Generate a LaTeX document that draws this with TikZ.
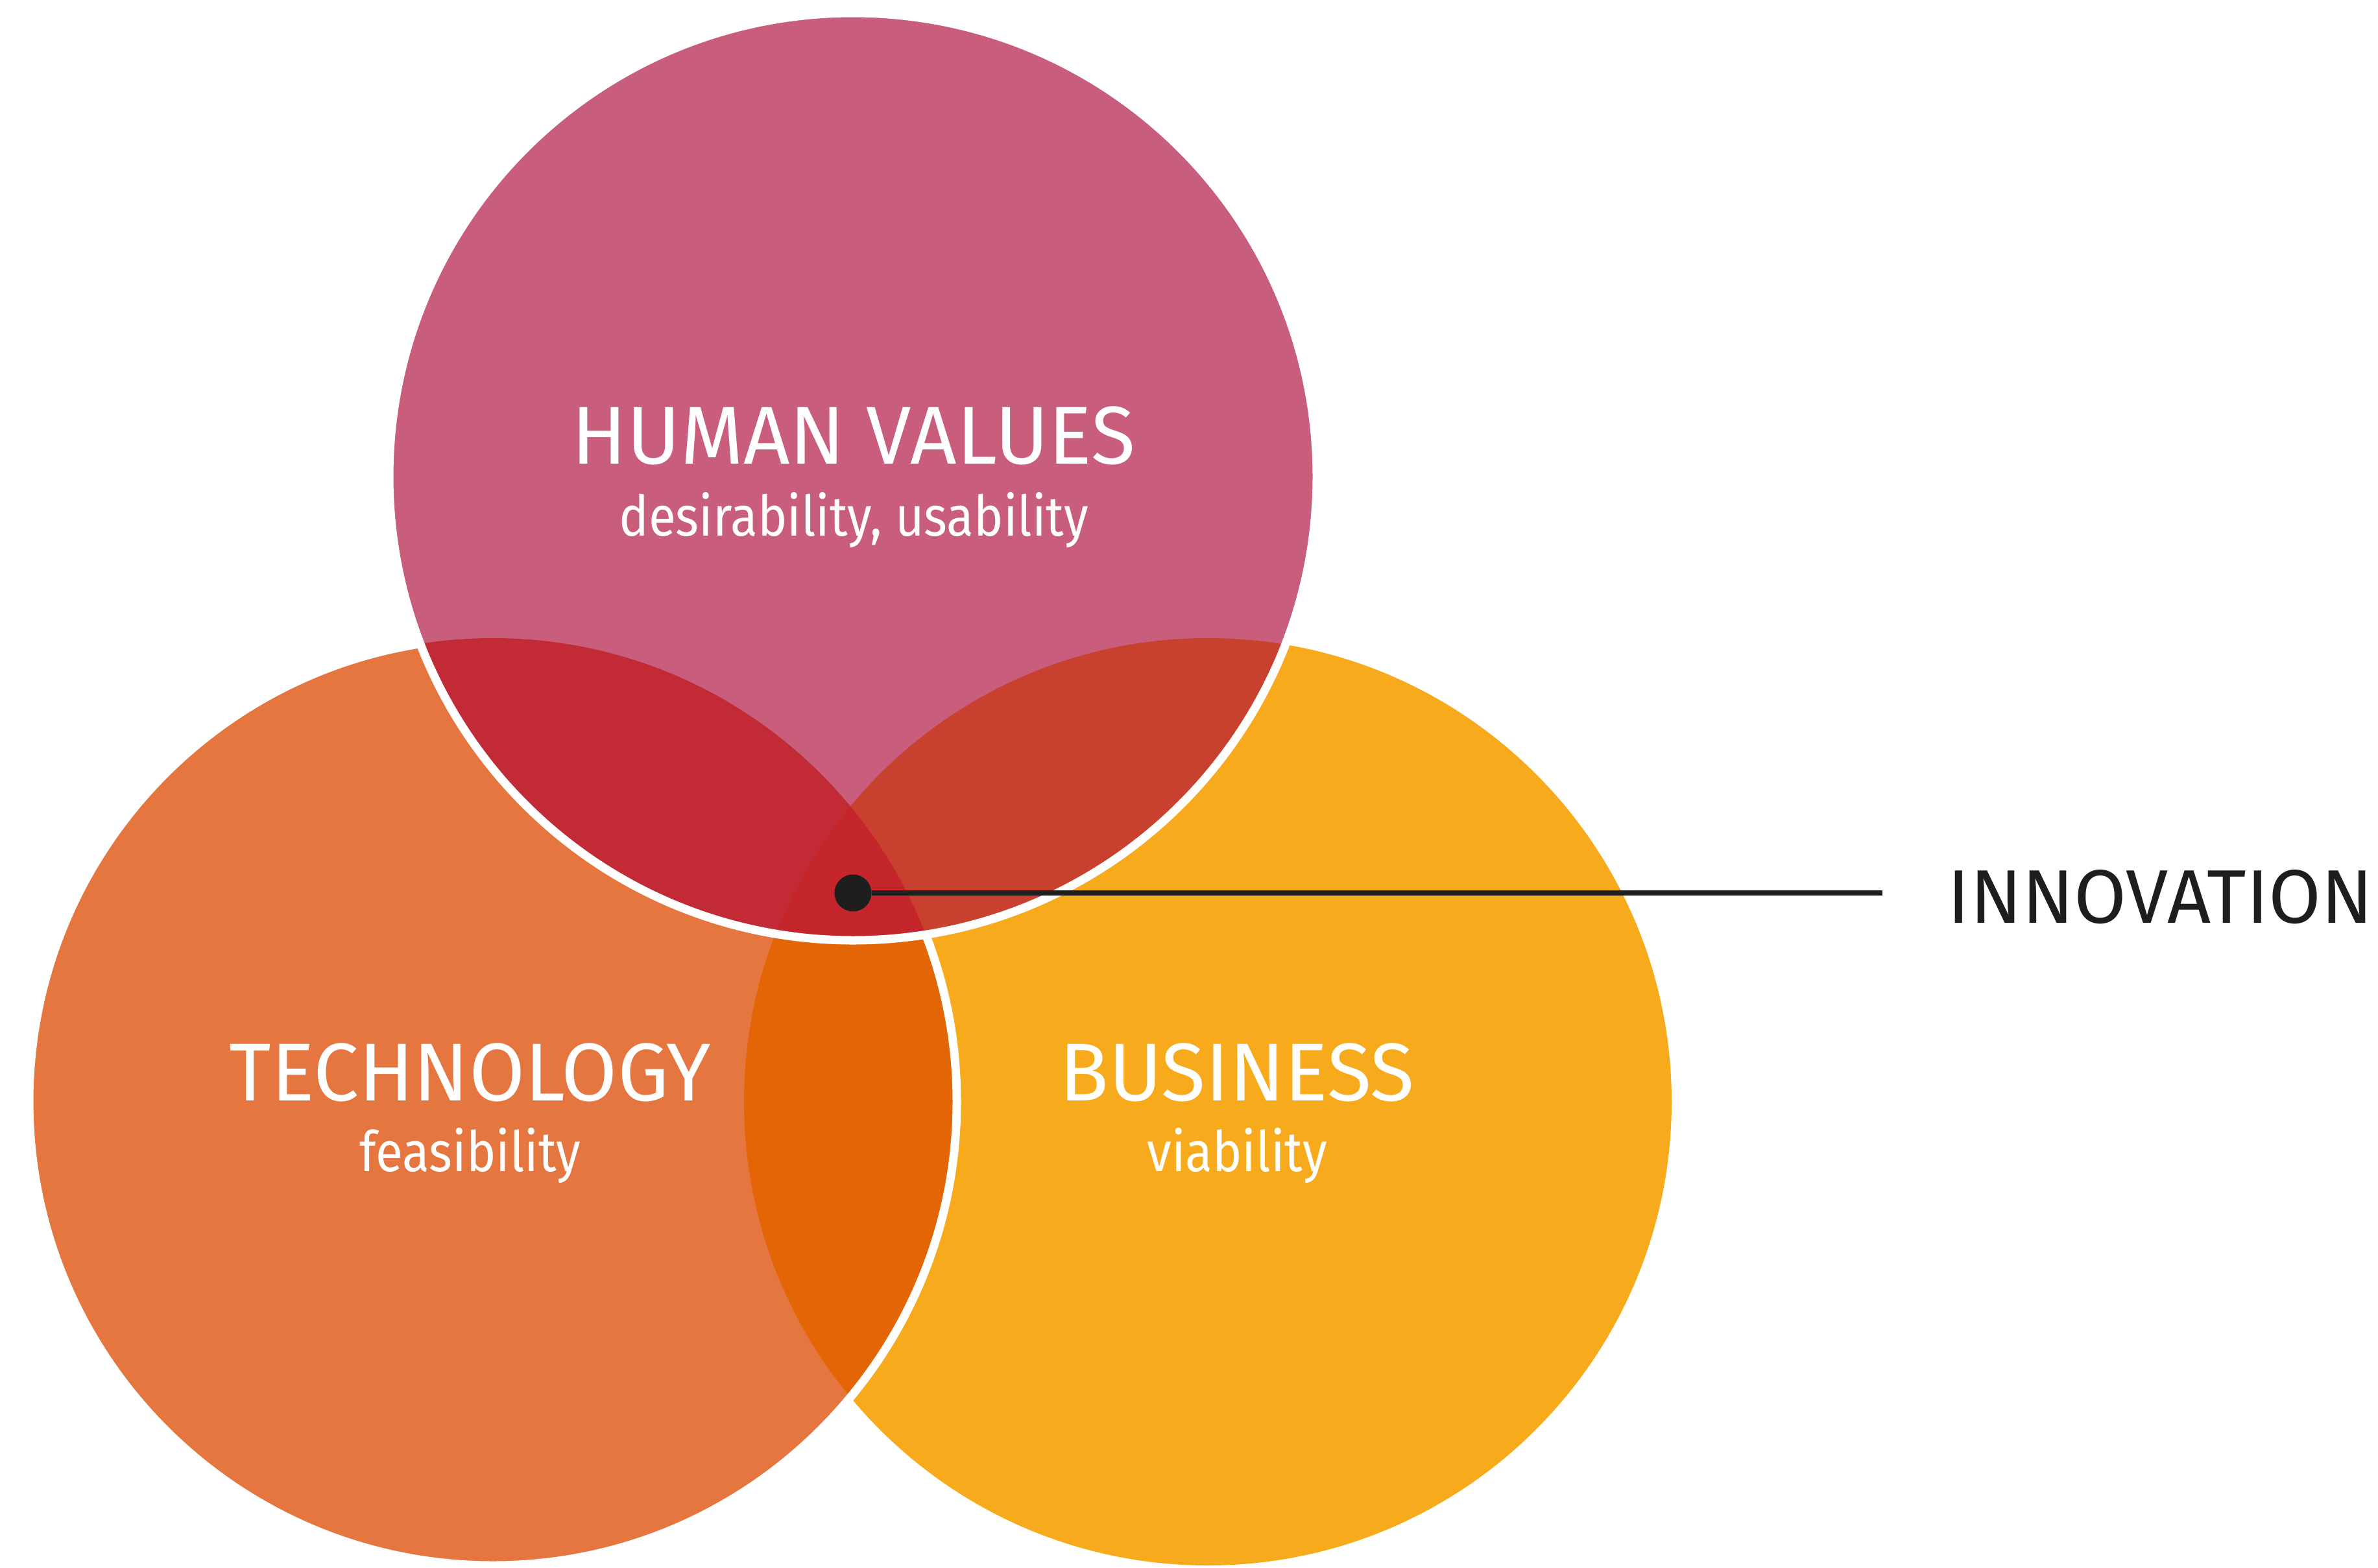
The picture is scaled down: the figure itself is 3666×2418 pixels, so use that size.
\documentclass[tikz,border=0pt]{standalone}
\usepackage{fontspec}
\setmainfont{Fira Sans}
\newfontfamily\fonttitolo{Fira Sans}[FakeStretch=0.985]
\newfontfamily\fontsotto{Fira Sans}[FakeStretch=0.89]
\definecolor{chum}{HTML}{C85E7B}
\definecolor{ctec}{HTML}{E5763F}
\definecolor{cbus}{HTML}{F8AA1D}
\definecolor{ctb}{HTML}{E36505}
\definecolor{cht}{HTML}{C22B35}
\definecolor{chb}{HTML}{C8412E}
\definecolor{chtb}{HTML}{C4262C}
\definecolor{inchiostro}{HTML}{1E1E1E}
\begin{document}
\begin{tikzpicture}[x=0.01cm, y=-0.01cm,
	etichetta/.style={text=white, anchor=base, inner sep=0pt},
	titolo/.style={etichetta, font=\fonttitolo\fontsize{36}{40}\selectfont},
	sotto/.style={etichetta, font=\fontsotto\fontsize{24.5}{28}\selectfont},
	bordo/.style={draw=white, line width=3.7pt}]
	
	\useasboundingbox (0,0) rectangle (3666,2418);
	\def\R{715}
	\coordinate (H) at (1315,735);
	\coordinate (T) at (760,1699);
	\coordinate (B) at (1862,1699);
	
	% Cerchio business
	\fill[cbus] (B) circle [radius=\R];
	
	% Cerchio technology: intersezione e bordo bianco
	\fill[ctec] (T) circle [radius=\R];
	\begin{scope}
		\clip (T) circle [radius=\R];
		\fill[ctb] (B) circle [radius=\R];
	\end{scope}
	\draw[bordo] (T) circle [radius=\R];
	
	% Cerchio human values: intersezioni e bordo bianco
	\fill[chum] (H) circle [radius=\R];
	\begin{scope}
		\clip (H) circle [radius=\R];
		\fill[cht] (T) circle [radius=\R];
		\fill[chb] (B) circle [radius=\R];
		\clip (T) circle [radius=\R];
		\fill[chtb] (B) circle [radius=\R];
	\end{scope}
	\draw[bordo] (H) circle [radius=\R];
	
	% Testi
	\node[titolo] (hv) at (1316,715) {HUMAN VALUES};
	\node[sotto] (hvs) at (1316,826) {desirability, usability};
	\node[titolo] (tec) at (725,1697) {TECHNOLOGY};
	\node[sotto] (tecs) at (725,1806) {feasibility};
	\node[titolo] (bus) at (1907,1697) {BUSINESS};
	\node[sotto] (buss) at (1907,1806) {viability};
	
	% Innovation
	\node[circle, fill=inchiostro, minimum size=0.57cm, inner sep=0pt] (dot) at (1315,1377) {};
	\coordinate (fine) at (2902,1377);
	\draw[inchiostro, line width=2.3pt] (dot) -- (fine);
	\node[anchor=base west, inner sep=0pt, text=inchiostro, font=\fontsize{33.3}{36}\selectfont] (inn) at (3002,1423) {INNOVATION};
	
\end{tikzpicture}
\end{document}
